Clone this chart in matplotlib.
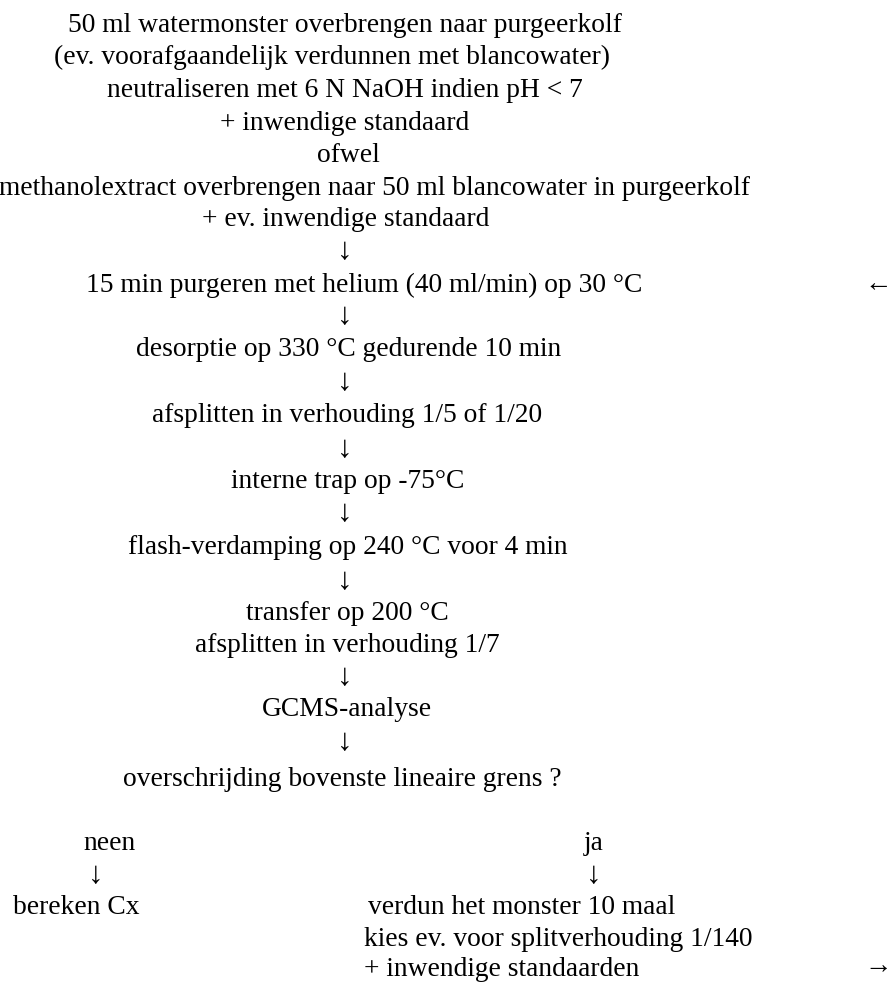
import matplotlib
matplotlib.use("Agg")
import matplotlib.pyplot as plt

plt.rcParams["font.family"] = ["Liberation Serif", "DejaVu Serif"]

# main column of the flow scheme, top to bottom
main_lines = [
    "50 ml watermonster overbrengen naar purgeerkolf",
    "(ev. voorafgaandelijk verdunnen met blancowater)",
    "neutraliseren met 6 N NaOH indien pH < 7",
    "+ inwendige standaard",
    "ofwel",
    "methanolextract overbrengen naar 50 ml blancowater in purgeerkolf",
    "+ ev. inwendige standaard",
    "↓",
    "15 min purgeren met helium (40 ml/min) op 30 °C",
    "↓",
    "desorptie op 330 °C gedurende 10 min",
    "↓",
    "afsplitten in verhouding 1/5 of 1/20",
    "↓",
    "interne trap op -75°C",
    "↓",
    "flash-verdamping op 240 °C voor 4 min",
    "↓",
    "transfer op 200 °C",
    "afsplitten in verhouding 1/7",
    "↓",
    "GCMS-analyse",
    "↓",
    "overschrijding bovenste lineaire grens ?",
]
# layout (pixels): centre x and centre y of each line
main_x = [345, 332, 345, 345, 348, 375, 346, 345, 364, 345, 349, 345, 347,
          345, 348, 345, 348, 345, 347, 347, 345, 347, 345, 342]
main_y = [22, 54, 87, 120, 152, 185, 216, 248, 282, 313, 347, 379, 413,
          446, 478, 510, 545, 578, 610, 642, 674, 707, 739, 776]

no_branch = ["neen", "↓", "bereken Cx"]
yes_branch = ["ja", "↓"]
yes_steps = ["verdun het monster 10 maal",
             "kies ev. voor splitverhouding 1/140",
             "+ inwendige standaarden"]

FS = 19.8
FS_ARROW = 22.5   # the down arrows in the scan run a bit larger than the text
VA = "center_baseline"


def size_of(txt):
    return FS_ARROW if txt == "↓" else FS


fig = plt.figure(figsize=(8.95, 9.82), dpi=100)
ax = fig.add_axes([0, 0, 1, 1])
ax.set_xlim(0, 895)
ax.set_ylim(982, 0)
ax.axis("off")

for txt, x, y in zip(main_lines, main_x, main_y):
    ax.text(x, y, txt, ha="center", va=VA, fontsize=size_of(txt))

# loop-back arrow beside the purge step
ax.text(878, 282, "←", ha="center", va=VA, fontsize=FS)

# decision branches
ax.text(110, 840, no_branch[0], ha="center", va=VA, fontsize=FS)
ax.text(96, 872, no_branch[1], ha="center", va=VA, fontsize=size_of("↓"))
ax.text(13, 905, no_branch[2], ha="left", va=VA, fontsize=FS)
ax.text(594, 840, yes_branch[0], ha="center", va=VA, fontsize=FS)
ax.text(594, 872, yes_branch[1], ha="center", va=VA, fontsize=size_of("↓"))
for txt, x, y in zip(yes_steps, [368, 364, 364], [905, 936, 966]):
    ax.text(x, y, txt, ha="left", va=VA, fontsize=FS)
ax.text(878, 964, "→", ha="center", va=VA, fontsize=FS)

fig.savefig("out.png", dpi=100)
